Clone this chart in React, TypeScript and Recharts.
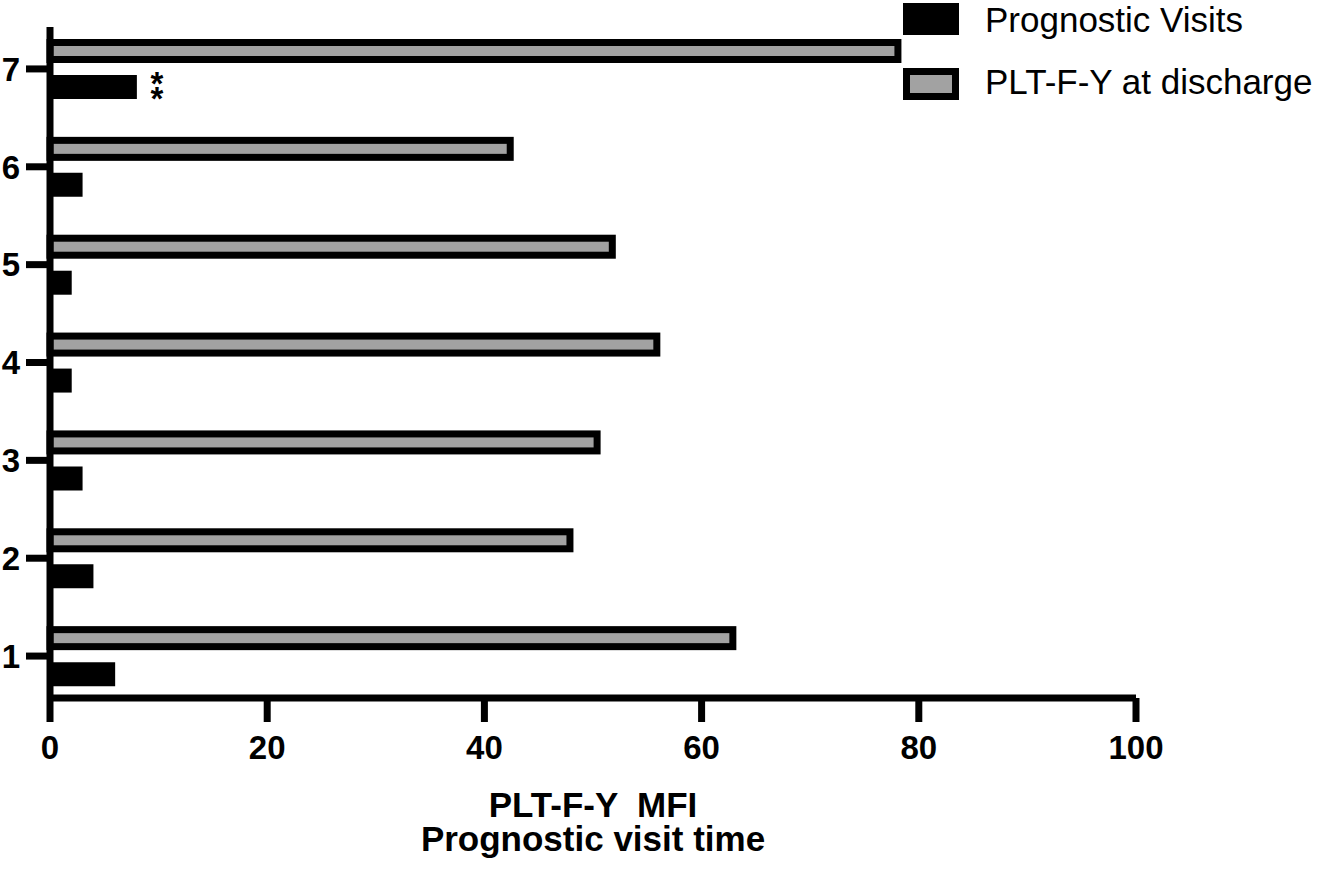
import { BarChart, Bar, XAxis, YAxis, Legend, LabelList } from 'recharts';

const CATEGORIES = ['1', '2', '3', '4', '5', '6', '7'];
const PROGNOSTIC_VISITS = [6, 4, 3, 2, 2, 3, 8];
const PLT_AT_DISCHARGE = [63.2, 48.2, 50.7, 56.2, 52.1, 42.7, 78.4];
const X_TICKS = [0, 20, 40, 60, 80, 100];
const SIGNIFICANT = ['7'];

const SERIES_VISITS = 'Prognostic Visits';
const SERIES_DISCHARGE = 'PLT-F-Y at discharge';

const FONT = '"Liberation Sans", Arial, Helvetica, sans-serif';
const GRAY = '#a2a2a2';
const STROKE_W = 7;

const data = CATEGORIES.map((c, i) => ({
  visit: c,
  visits: PROGNOSTIC_VISITS[i],
  discharge: PLT_AT_DISCHARGE[i],
}));

// gray bar with a thick black border kept inside the bar's box
const OutlinedBar = (props: any) => {
  const { x, y, width, height } = props;
  if (!width || width <= STROKE_W) return null;
  return (
    <rect
      x={x}
      y={y + STROKE_W / 2}
      width={width - STROKE_W / 2}
      height={height - STROKE_W}
      fill={GRAY}
      stroke="#000"
      strokeWidth={STROKE_W}
    />
  );
};

// "**" stacked vertically next to the significant bar
const Stars = (props: any) => {
  const { x, y, width, height, index } = props;
  if (!SIGNIFICANT.includes(CATEGORIES[index])) return null;
  const cx = x + width + 20;
  const cy = y + height / 2;
  return (
    <text
      textAnchor="middle"
      fill="#000"
      style={{ fontSize: 33, fontWeight: 'bold', fontFamily: FONT }}
    >
      <tspan x={cx} y={cy + 8}>*</tspan>
      <tspan x={cx} dy={15}>*</tspan>
    </text>
  );
};

const AxisTitle = (props: any) => {
  const { viewBox } = props;
  const cx = viewBox.x + viewBox.width / 2;
  return (
    <text
      textAnchor="middle"
      fill="#000"
      style={{ fontSize: 35, fontWeight: 'bold', fontFamily: FONT, whiteSpace: 'pre' }}
    >
      <tspan x={cx} y={viewBox.y + 119}>PLT-F-Y  MFI</tspan>
      <tspan x={cx} dy={34}>Prognostic visit time</tspan>
    </text>
  );
};

const LegendBox = () => (
  <svg width={425} height={108} style={{ display: 'block', overflow: 'visible' }}>
    <rect x={0} y={3} width={56} height={32} fill="#000" />
    <rect x={3.5} y={71.5} width={49} height={25} fill={GRAY} stroke="#000" strokeWidth={STROKE_W} />
    <text x={82} y={32} fill="#000" style={{ fontSize: 35, fontFamily: FONT }}>{SERIES_VISITS}</text>
    <text x={82} y={94} fill="#000" style={{ fontSize: 35, fontFamily: FONT }}>{SERIES_DISCHARGE}</text>
  </svg>
);

export default function App() {
  const tickStyle = { fill: '#000', fontSize: 33, fontWeight: 'bold', fontFamily: FONT };
  return (
    <div style={{ position: 'absolute', left: 0, top: 0, width: 1328, height: 873, background: '#fff' }}>
      <BarChart
        width={1328}
        height={873}
        data={data}
        layout="vertical"
        margin={{ top: 27, right: 192, bottom: 0, left: 0 }}
        barSize={24}
        barGap={12}
      >
        <XAxis
          type="number"
          domain={[0, 100]}
          ticks={X_TICKS}
          height={175}
          tickSize={24}
          tickMargin={14}
          stroke="#000"
          axisLine={{ stroke: '#000', strokeWidth: STROKE_W }}
          tickLine={{ stroke: '#000', strokeWidth: STROKE_W }}
          tick={tickStyle}
          label={<AxisTitle />}
        />
        <YAxis
          type="category"
          dataKey="visit"
          reversed
          width={50}
          interval={0}
          padding={{ top: -7, bottom: -7 }}
          tickSize={24}
          tickMargin={6}
          stroke="#000"
          axisLine={{ stroke: '#000', strokeWidth: STROKE_W }}
          tickLine={{ stroke: '#000', strokeWidth: STROKE_W }}
          tick={tickStyle}
        />
        <Legend
          layout="vertical"
          align="center"
          verticalAlign="middle"
          content={<LegendBox />}
          wrapperStyle={{ top: 0, left: 903, width: 425, height: 108 }}
        />
        <Bar dataKey="discharge" name={SERIES_DISCHARGE} fill={GRAY} shape={<OutlinedBar />} isAnimationActive={false} />
        <Bar dataKey="visits" name={SERIES_VISITS} fill="#000" isAnimationActive={false}>
          <LabelList dataKey="visits" content={<Stars />} />
        </Bar>
      </BarChart>
    </div>
  );
}
